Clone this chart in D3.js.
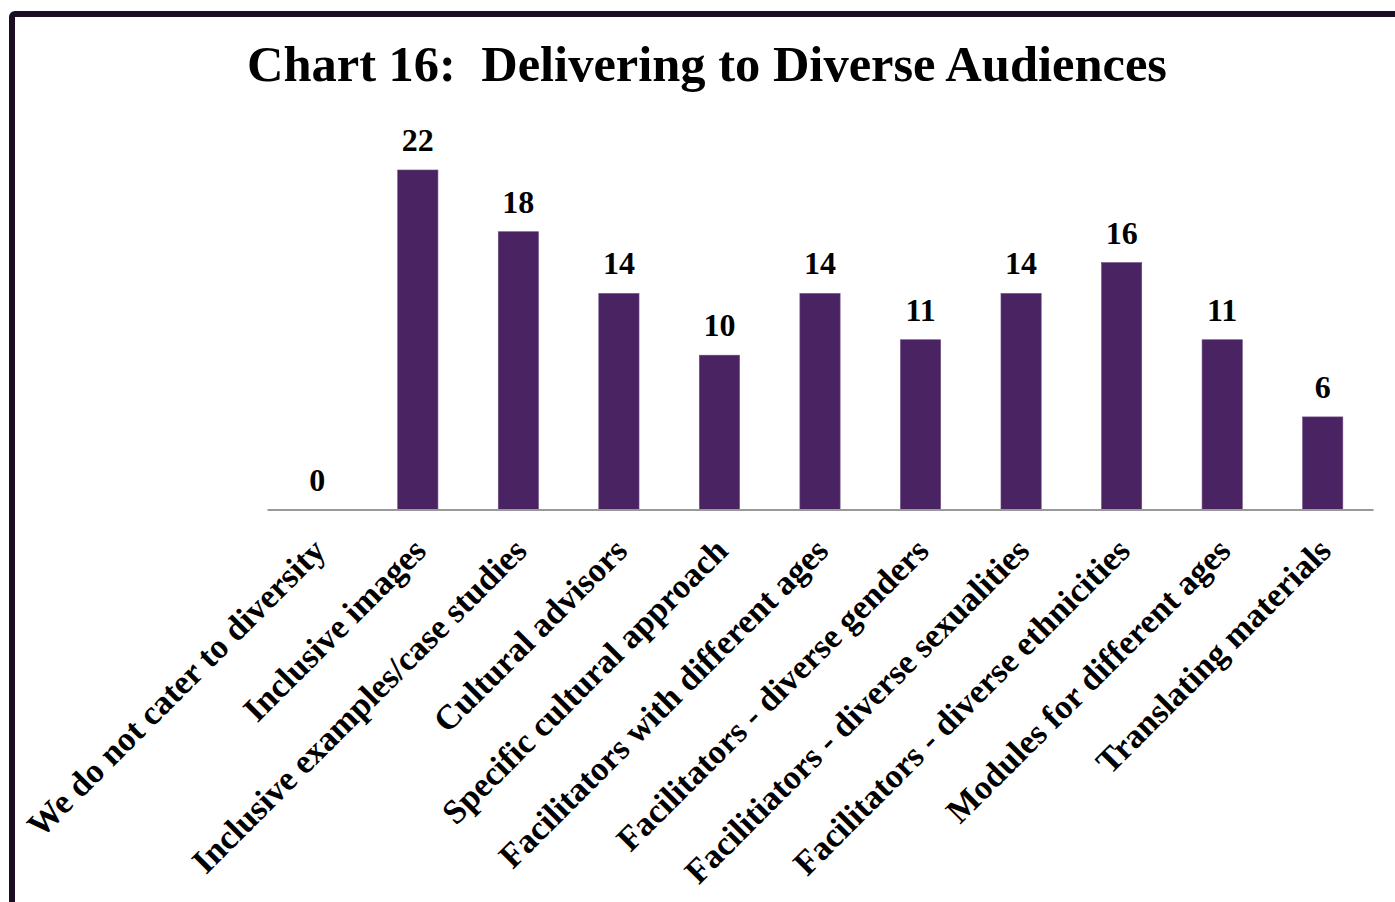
<!DOCTYPE html>
<html>
<head>
<meta charset="utf-8">
<script src="https://cdn.jsdelivr.net/npm/d3@7"></script>
<style>
  html, body { margin: 0; padding: 0; background: #ffffff; }
  svg { display: block; }
  text.title { white-space: pre; }
</style>
</head>
<body>
<svg id="chart" width="1395" height="902"></svg>
<script>
// Survey responses: methods used to deliver to diverse audiences
const categories = [
  "We do not cater to diversity",
  "Inclusive images",
  "Inclusive examples/case studies",
  "Cultural advisors",
  "Specific cultural approach",
  "Facilitators with different ages",
  "Facilitators - diverse genders",
  "Facilitiators - diverse sexualities",
  "Facilitators - diverse ethnicities",
  "Modules for different ages",
  "Translating materials"
];
const counts = [0, 22, 18, 14, 10, 14, 11, 14, 16, 11, 6];
const chartTitle = "Chart 16:  Delivering to Diverse Audiences";

const svg = d3.select("#chart");
const serif = "'Liberation Serif', 'DejaVu Serif', serif";

// Outer frame (continues past the right and bottom edges)
svg.append("rect")
  .attr("x", 12).attr("y", 14)
  .attr("width", 1420).attr("height", 940)
  .attr("rx", 3)
  .attr("fill", "none")
  .attr("stroke", "#1b0d24")
  .attr("stroke-width", 6);

// Plot geometry
const plotLeft = 267, plotRight = 1373, baseY = 509.5;

const x = d3.scaleBand()
  .domain(categories)
  .range([plotLeft, plotRight])
  .paddingInner(0.6)
  .paddingOuter(0.3);

const y = d3.scaleLinear()
  .domain([0, 22])
  .range([baseY, 170]);

// Fit a text node to a target width by adjusting its font size
function fitWidth(sel, target) {
  const node = sel.node();
  const fs = parseFloat(sel.attr("font-size"));
  const w = node.getComputedTextLength();
  sel.attr("font-size", (fs * target / w).toFixed(2));
}

// Title
const title = svg.append("text")
  .attr("class", "title")
  .attr("xml:space", "preserve")
  .attr("x", 707).attr("y", 81)
  .attr("text-anchor", "middle")
  .attr("font-family", serif)
  .attr("font-weight", "bold")
  .attr("font-size", 46)
  .attr("fill", "#000")
  .text(chartTitle);
fitWidth(title, 920);

// Bars
svg.append("g")
  .selectAll("rect")
  .data(counts)
  .join("rect")
  .attr("x", (d, i) => x(categories[i]))
  .attr("y", d => y(d))
  .attr("width", x.bandwidth())
  .attr("height", d => baseY - y(d))
  .attr("fill", "#4a2462")
  .attr("stroke", "#6a4a80")
  .attr("stroke-width", 0.6);

// Baseline axis
const axis = d3.axisBottom(x).tickSize(0).tickFormat("");
const axisG = svg.append("g")
  .attr("transform", `translate(0,${baseY})`)
  .call(axis);
axisG.select(".domain")
  .attr("stroke", "#999999")
  .attr("stroke-width", 2);

// Value labels
svg.append("g")
  .selectAll("text")
  .data(counts)
  .join("text")
  .attr("x", (d, i) => x(categories[i]) + x.bandwidth() / 2)
  .attr("y", d => y(d) - 19)
  .attr("text-anchor", "middle")
  .attr("font-family", serif)
  .attr("font-weight", "bold")
  .attr("font-size", 32)
  .attr("fill", "#000")
  .text(d => d);

// Rotated category labels
const labelG = svg.append("g");
const labels = labelG.selectAll("text")
  .data(categories)
  .join("text")
  .attr("text-anchor", "end")
  .attr("font-family", serif)
  .attr("font-weight", "bold")
  .attr("font-size", 26)
  .attr("fill", "#000")
  .text(d => d);

// Common font size so the first label spans its measured length
const w0 = labels.nodes()[0].getComputedTextLength();
const labelSize = 26 * 405 / w0;
labels.attr("font-size", labelSize.toFixed(2))
  .attr("transform", d => {
    const cx = x(d) + x.bandwidth() / 2 - 8;
    return `translate(${cx},${baseY + 25}) rotate(-45)`;
  })
  .attr("dy", "0.75em");
</script>
</body>
</html>
